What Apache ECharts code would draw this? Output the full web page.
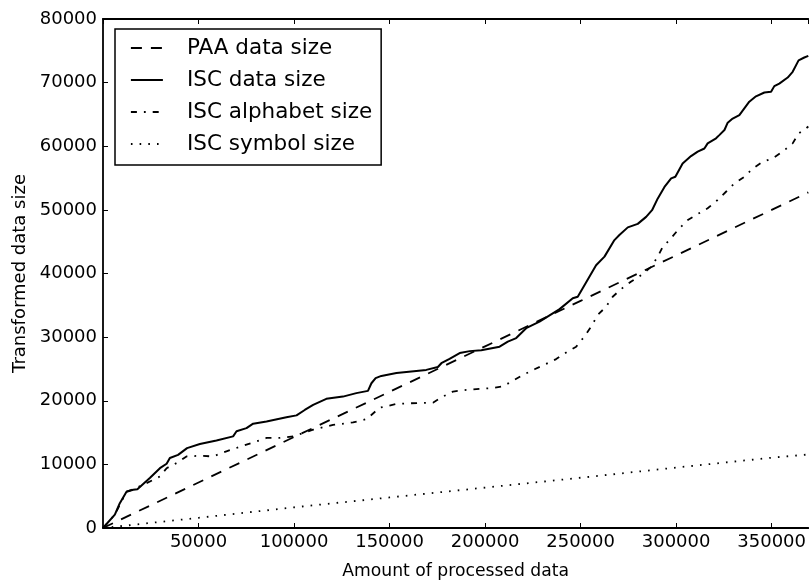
<!DOCTYPE html>
<html>
<head>
<meta charset="utf-8">
<script src="https://cdn.jsdelivr.net/npm/echarts@6/dist/echarts.min.js"></script>
<style>
  html, body { margin: 0; padding: 0; background: #fff; }
  #chart { width: 809px; height: 586px; }
</style>
</head>
<body>
<div id="chart"></div>
<script>
// Series names
const seriesNames = ['PAA data size', 'ISC data size', 'ISC alphabet size', 'ISC symbol size'];

// [amount of processed data, transformed data size]
const paaDataSize = [
  [0, 0], [50000, 7150], [100000, 14300], [150000, 21400], [200000, 28550],
  [250000, 35700], [300000, 42850], [350000, 50000], [369200, 52750]
];

const iscDataSize = [
  [0, 0], [6200, 2100], [8800, 3900], [9700, 4200], [12300, 5700], [13200, 5800],
  [15800, 6000], [18000, 6100], [24500, 7850], [29800, 9400], [33300, 10100],
  [35000, 11000], [39300, 11500], [44000, 12550], [50700, 13200], [59400, 13750],
  [68100, 14400], [69900, 15200], [75100, 15700], [78600, 16400], [85600, 16750],
  [96000, 17400], [101300, 17700], [105600, 18550], [110000, 19350], [116900, 20300],
  [125600, 20650], [132600, 21200], [138700, 21550], [140500, 22750], [142700, 23550],
  [145700, 23900], [153600, 24350], [169200, 24850], [175300, 25300], [177100, 25900],
  [181400, 26600], [186700, 27500], [192000, 27800], [198000, 27950], [207600, 28500],
  [211900, 29300], [216300, 29850], [221500, 31400], [228500, 32450], [239000, 34400],
  [245900, 36100], [248500, 36350], [251100, 37700], [258100, 41300], [262500, 42650],
  [267700, 45250], [270300, 46050], [274700, 47250], [279900, 47800], [284300, 48900],
  [287400, 49950], [290400, 51800], [293900, 53600], [297400, 54950], [299600, 55200],
  [303400, 57300], [307800, 58450], [311300, 59150], [314800, 59650], [316500, 60450],
  [320900, 61250], [322600, 61750], [325300, 62550], [327000, 63700], [329600, 64350],
  [333100, 64900], [335700, 65950], [338300, 67000], [341800, 67850], [346200, 68450],
  [349700, 68550], [351400, 69450], [354000, 69850], [358400, 70800], [361000, 71700],
  [364100, 73500], [367100, 73950], [369200, 74200]
];

const iscAlphabetSize = [
  [0, 0], [6200, 2100], [9700, 4200], [12300, 5700], [15000, 6000], [22800, 7050],
  [29800, 8100], [33300, 9400], [38500, 10200], [43700, 11250], [50700, 11350],
  [57600, 11250], [64600, 12050], [75100, 13100], [85600, 14150], [92500, 14150],
  [99500, 14400], [110000, 15450], [120400, 16200], [130900, 16600], [137900, 17100],
  [144800, 18900], [153600, 19500], [160500, 19600], [172700, 19700], [177900, 20650],
  [183200, 21450], [190200, 21700], [197100, 21870], [203200, 21980], [209300, 22250],
  [219800, 24050], [225900, 24950], [232000, 25800], [237200, 26550], [243300, 27750],
  [247700, 28500], [252000, 30100], [255500, 31650], [259000, 33500], [263400, 34800],
  [266800, 36350], [271200, 37550], [276500, 38750], [281700, 39750], [286900, 41050],
  [290400, 42650], [293000, 44200], [296500, 45250], [301700, 47100], [306100, 48400],
  [311300, 49350], [316500, 50250], [321700, 51550], [326100, 52850], [330500, 54150],
  [335700, 55200], [340100, 56500], [345300, 57550], [350500, 58100], [355700, 59150],
  [361000, 60450], [364100, 62000], [368000, 62800], [369200, 63100]
];

const iscSymbolSize = [
  [0, 0], [50000, 1600], [100000, 3250], [150000, 4800], [200000, 6350],
  [250000, 7900], [300000, 9500], [350000, 11050], [369200, 11550]
];

// Axis ranges
const xRange = { min: 0, max: 369200, step: 50000 };
const yRange = { min: 0, max: 80000, step: 10000 };

const FONT = 'DejaVu Sans';
const TICK_FS = 18;
const LEGEND_FS = 21.5;

const chart = echarts.init(document.getElementById('chart'), null, { renderer: 'canvas' });

const plain = (v) => String(v);
const tickStyle = { show: true, inside: true, length: 5, lineStyle: { color: '#000', width: 1 } };
const spine = { show: true, onZero: false, lineStyle: { color: '#000', width: 1.8 } };

function lineSeries(name, data, dash, width) {
  return {
    name: name,
    type: 'line',
    data: data,
    showSymbol: false,
    symbol: 'none',
    smooth: false,
    clip: true,
    color: '#000',
    itemStyle: { color: '#000' },
    lineStyle: { color: '#000', width: width, type: dash, cap: 'butt' },
    emphasis: { disabled: true }
  };
}

chart.setOption({
  animation: false,
  backgroundColor: '#fff',
  color: ['#000'],
  textStyle: { fontFamily: FONT, color: '#000' },
  grid: { left: 103, top: 19, right: 0, bottom: 58, containLabel: false },
  legend: {
    orient: 'vertical',
    left: 115,
    top: 29,
    padding: [8, 9, 10, 15],
    itemGap: 10,
    itemWidth: 32,
    itemHeight: 14,
    borderColor: '#000',
    borderWidth: 1.5,
    backgroundColor: '#fff',
    selectedMode: false,
    itemStyle: { opacity: 0 },
    lineStyle: { color: '#000', width: 1.8 },
    data: seriesNames,
    textStyle: { fontFamily: FONT, fontSize: LEGEND_FS, lineHeight: 22, color: '#000', padding: [0, 0, 0, 19] }
  },
  xAxis: [
    {
      type: 'value',
      position: 'bottom',
      min: xRange.min, max: xRange.max, interval: xRange.step,
      name: 'Amount of processed data',
      nameLocation: 'middle',
      nameGap: 35,
      nameTextStyle: { fontFamily: FONT, fontSize: 17.2, color: '#000' },
      axisLine: spine,
      axisTick: tickStyle,
      axisLabel: { formatter: plain, showMinLabel: false, showMaxLabel: false, fontFamily: FONT, fontSize: TICK_FS, color: '#000', margin: 5 },
      splitLine: { show: false }
    },
    {
      type: 'value',
      position: 'top',
      min: xRange.min, max: xRange.max, interval: xRange.step,
      axisLine: spine,
      axisTick: tickStyle,
      axisLabel: { show: false },
      splitLine: { show: false }
    }
  ],
  yAxis: {
    type: 'value',
    min: yRange.min, max: yRange.max, interval: yRange.step,
    name: 'Transformed data size',
    nameLocation: 'middle',
    nameGap: 73,
    nameTextStyle: { fontFamily: FONT, fontSize: 18, color: '#000' },
    axisLine: spine,
    axisTick: tickStyle,
    axisLabel: { formatter: plain, fontFamily: FONT, fontSize: TICK_FS, color: '#000', margin: 6 },
    splitLine: { show: false }
  },
  series: [
    lineSeries(seriesNames[0], paaDataSize, [11, 9], 1.8),
    lineSeries(seriesNames[1], iscDataSize, 'solid', 2),
    lineSeries(seriesNames[2], iscAlphabetSize, [6, 7, 1.8, 7], 1.8),
    lineSeries(seriesNames[3], iscSymbolSize, [1.6, 7.1], 1.8)
  ]
});
</script>
</body>
</html>
